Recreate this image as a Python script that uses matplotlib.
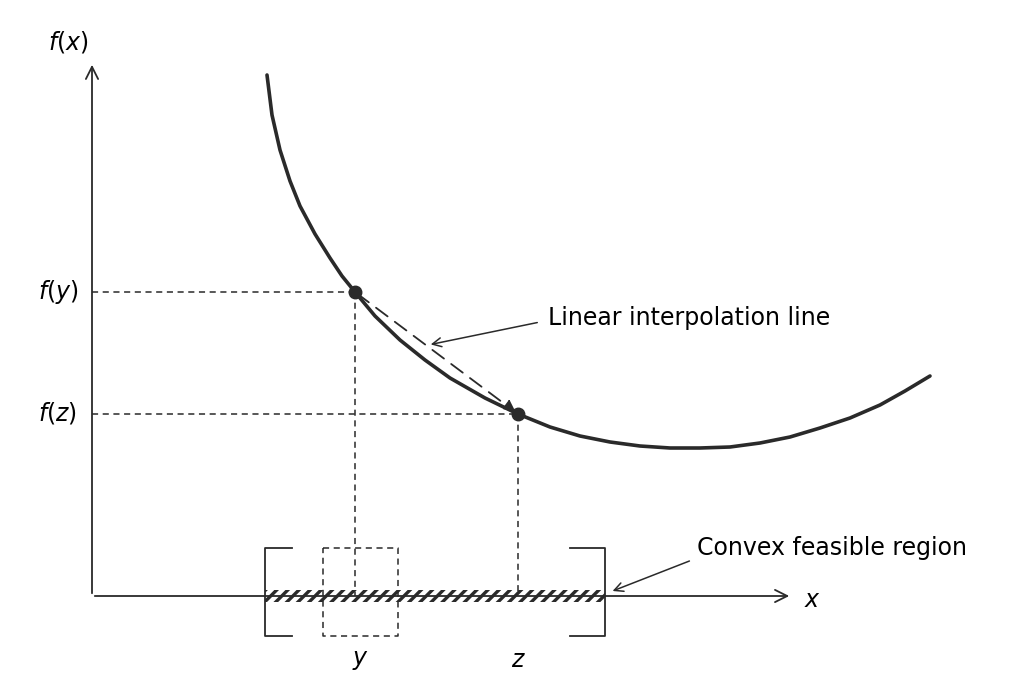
import matplotlib.pyplot as plt
import numpy as np
from matplotlib.patches import Rectangle

# curve points (pixel-like coordinates, y downward)
curve_x = [267, 272, 280, 290, 300, 315, 330, 342, 355, 375, 400, 425, 450, 485, 518, 550, 580, 610, 640, 670, 700, 730, 760, 790, 820, 850, 880, 905, 930]
curve_y = [75, 115, 150, 181, 206, 234, 258, 276, 292, 316, 340, 360, 378, 398, 414, 427, 436, 442, 446, 448, 448, 447, 443, 437, 428, 418, 405, 391, 376]
pt_y = (355, 292)
pt_z = (518, 414)
region = (265, 605)
small_box = (323, 398)

plt.rcParams['hatch.linewidth'] = 2.4
plt.rcParams['mathtext.fontset'] = 'dejavusans'
fig = plt.figure(figsize=(10.27, 6.92), dpi=100)
ax = fig.add_axes([0, 0, 1, 1])
ax.set_xlim(0, 1027)
ax.set_ylim(692, 0)
ax.axis('off')

k = '#2a2a2a'
ax0, ay0 = 92, 596
# axes with arrows
ax.annotate('', xy=(ax0, 62), xytext=(ax0, ay0), arrowprops=dict(arrowstyle='->', color=k, lw=1.3, mutation_scale=22))
ax.annotate('', xy=(792, ay0), xytext=(ax0, ay0), arrowprops=dict(arrowstyle='->', color=k, lw=1.3, mutation_scale=22))

ax.plot(curve_x, curve_y, color=k, lw=2.6, solid_capstyle='round', solid_joinstyle='round')

# dashed guides
dash = dict(color=k, lw=1.1, ls=(0, (4, 3)))
ax.plot([ax0, pt_y[0]], [pt_y[1]] * 2, **dash)
ax.plot([pt_y[0]] * 2, [pt_y[1], ay0], **dash)
ax.plot([ax0, pt_z[0]], [pt_z[1]] * 2, **dash)
ax.plot([pt_z[0]] * 2, [pt_z[1], ay0], **dash)

# interpolation line
ax.annotate('', xy=pt_z, xytext=pt_y,
            arrowprops=dict(arrowstyle='-|>', color=k, lw=1.3, ls=(0, (8, 5)), mutation_scale=18))
ax.plot(*pt_y, 'o', color=k, ms=9)
ax.plot(*pt_z, 'o', color=k, ms=9)

# feasible region (hatched bar)
ax.add_patch(Rectangle((region[0], ay0 - 6), region[1] - region[0], 12, fill=False,
                       hatch='///', edgecolor=k, lw=0))
ax.plot([region[0] + 27, region[0], region[0], region[0] + 27], [548, 548, 636, 636], color=k, lw=1.3)
ax.plot([region[1] - 35, region[1], region[1], region[1] - 35], [548, 548, 636, 636], color=k, lw=1.3)
ax.plot([small_box[0], small_box[1], small_box[1], small_box[0], small_box[0]],
        [548, 548, 636, 636, 548], **dash)

# labels
fs = 17
ax.text(68, 42, '$f(x)$', fontsize=fs, ha='center', va='center')
ax.text(58, 292, '$f(y)$', fontsize=fs, ha='center', va='center')
ax.text(58, 413, '$f(z)$', fontsize=fs, ha='center', va='center')
ax.text(812, 600, '$x$', fontsize=fs, ha='center', va='center')
ax.text(360, 660, '$y$', fontsize=fs, ha='center', va='center')
ax.text(518, 660, '$z$', fontsize=fs, ha='center', va='center')
ax.text(548, 318, 'Linear interpolation line', fontsize=17, va='center')
ax.annotate('', xy=(428, 345), xytext=(540, 322), arrowprops=dict(arrowstyle='->', color=k, lw=1.1, mutation_scale=16))
ax.text(697, 548, 'Convex feasible region', fontsize=17, va='center')
ax.annotate('', xy=(610, 592), xytext=(692, 560), arrowprops=dict(arrowstyle='->', color=k, lw=1.1, mutation_scale=16))

fig.savefig('out.png', dpi=100)
